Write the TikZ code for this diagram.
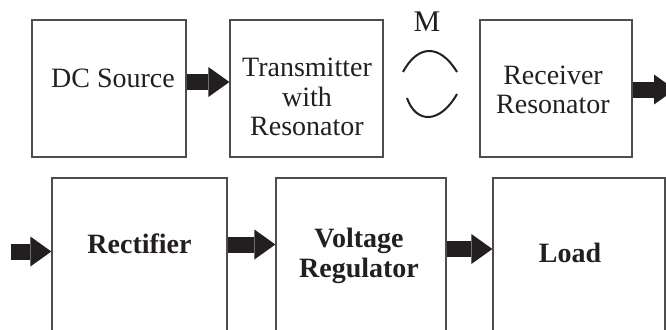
\documentclass[tikz,border=0pt]{standalone}
\usepackage{fontspec}
\setmainfont{Liberation Serif}
\usetikzlibrary{arrows.meta}
\definecolor{ink}{RGB}{35,31,32}
\tikzset{
  blk/.style 2 args={draw=ink!80,line width=1.3pt,minimum width=#1,minimum height=#2,inner sep=0pt},
  lbl/.style={font=\fontsize{28}{29.5}\selectfont,align=center,inner sep=0pt,text=ink},
  blbl/.style={lbl,font=\fontsize{28}{30}\selectfont\bfseries},
  fat/.style={draw=ink,line width=16pt,-{Triangle[length=21pt,width=30pt,line width=0pt]}}
}
\begin{document}
\begin{tikzpicture}[x=1pt,y=-1pt,line width=1.3pt]
  \path[use as bounding box] (0,0) rectangle (666,329);
  \node[blk={154pt}{137pt}] (dc) at (109,88.5) {};
  \node[blk={153pt}{137pt}] (tx) at (306.5,88.5) {};
  \node[blk={152pt}{137pt}] (rx) at (556,88.5) {};
  \node[blk={175pt}{162pt}] (rect) at (139.5,259) {};
  \node[blk={170pt}{162pt}] (vr) at (361,259) {};
  \node[blk={172pt}{162pt}] (load) at (579,259) {};
  \node[lbl] (dct) at (113,78.5) {DC Source};
  \node[lbl] (txt) at (307,97) {Transmitter\\with\\Resonator};
  \node[lbl] (rxt) at (553,90) {Receiver\\Resonator};
  \node[blbl] (rectt) at (139.5,244) {Rectifier};
  \node[blbl] (vrt) at (359,255.5) {Voltage\\Regulator};
  \node[blbl] (loadt) at (570,252.5) {Load};
  \node[lbl,font=\fontsize{30}{30}\selectfont] (m) at (427,22) {M};
  \draw[ink,line width=2pt] (403,72) .. controls (418,44) and (440,44) .. (457,72);
  \draw[ink,line width=2pt] (407,98) .. controls (416,124) and (440,124) .. (457,94);
  \coordinate (rxout) at (675,89.5);
  \coordinate (rectin) at (11,251.5);
  \draw[fat] ([yshift=6.5pt]dc.east) -- ([yshift=6.5pt]tx.west);
  \draw[fat] ([yshift=-1pt]rx.east) -- (rxout);
  \draw[fat] (rectin) -- ([yshift=7.5pt]rect.west);
  \draw[fat] ([yshift=14.5pt]rect.east) -- ([yshift=14.5pt]vr.west);
  \draw[fat] ([yshift=10pt]vr.east) -- ([yshift=10pt]load.west);
\end{tikzpicture}
\end{document}
